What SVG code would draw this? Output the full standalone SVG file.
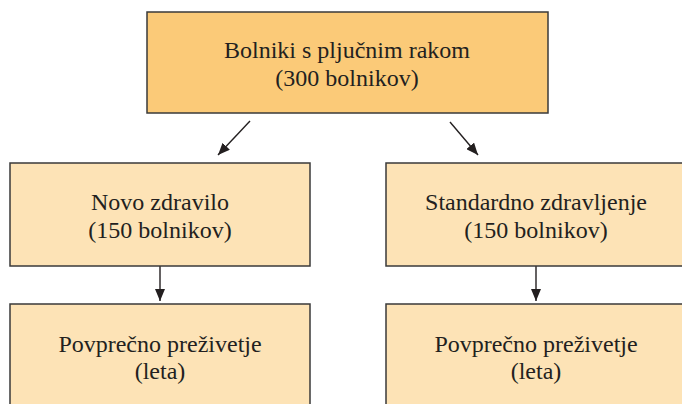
<svg xmlns="http://www.w3.org/2000/svg" width="682" height="404" viewBox="0 0 682 404">
<defs>
<marker id="ah" viewBox="0 0 12 10" refX="12" refY="5" markerWidth="12" markerHeight="10" markerUnits="userSpaceOnUse" orient="auto">
<path d="M0,0 L12,5 L0,10 Z" fill="#231f20"/>
</marker>
<style>
.box{stroke:#3a3a3a;stroke-width:1.5}
.top{fill:#fbca78}
.sub{fill:#fde3b6}
.t{font-family:"Liberation Serif","Times New Roman",serif;font-size:24px;fill:#231f20;text-anchor:middle}
.c{stroke:#231f20;stroke-width:1.4;fill:none;marker-end:url(#ah)}
</style>
</defs>
<rect width="682" height="404" fill="#ffffff"/>
<g id="connectors">
<line class="c" x1="250" y1="121" x2="218" y2="155"/>
<line class="c" x1="450" y1="122" x2="478" y2="155"/>
<line class="c" x1="160" y1="266" x2="160" y2="301"/>
<line class="c" x1="536" y1="266" x2="536" y2="301"/>
</g>
<g id="n_all">
<rect class="box top" x="147" y="12" width="401" height="101"/>
<text class="t" x="347" y="58">Bolniki s pljučnim rakom</text>
<text class="t" x="347" y="86">(300 bolnikov)</text>
</g>
<g id="n_new">
<rect class="box sub" x="10" y="163" width="300" height="103"/>
<text class="t" x="160" y="210">Novo zdravilo</text>
<text class="t" x="160" y="238">(150 bolnikov)</text>
</g>
<g id="n_std">
<rect class="box sub" x="386" y="163" width="310" height="103"/>
<text class="t" x="536" y="210">Standardno zdravljenje</text>
<text class="t" x="536" y="238">(150 bolnikov)</text>
</g>
<g id="n_surv1">
<rect class="box sub" x="10" y="304" width="300" height="110"/>
<text class="t" x="160" y="352">Povprečno preživetje</text>
<text class="t" x="160" y="379">(leta)</text>
</g>
<g id="n_surv2">
<rect class="box sub" x="386" y="304" width="310" height="110"/>
<text class="t" x="536" y="352">Povprečno preživetje</text>
<text class="t" x="536" y="379">(leta)</text>
</g>
</svg>
